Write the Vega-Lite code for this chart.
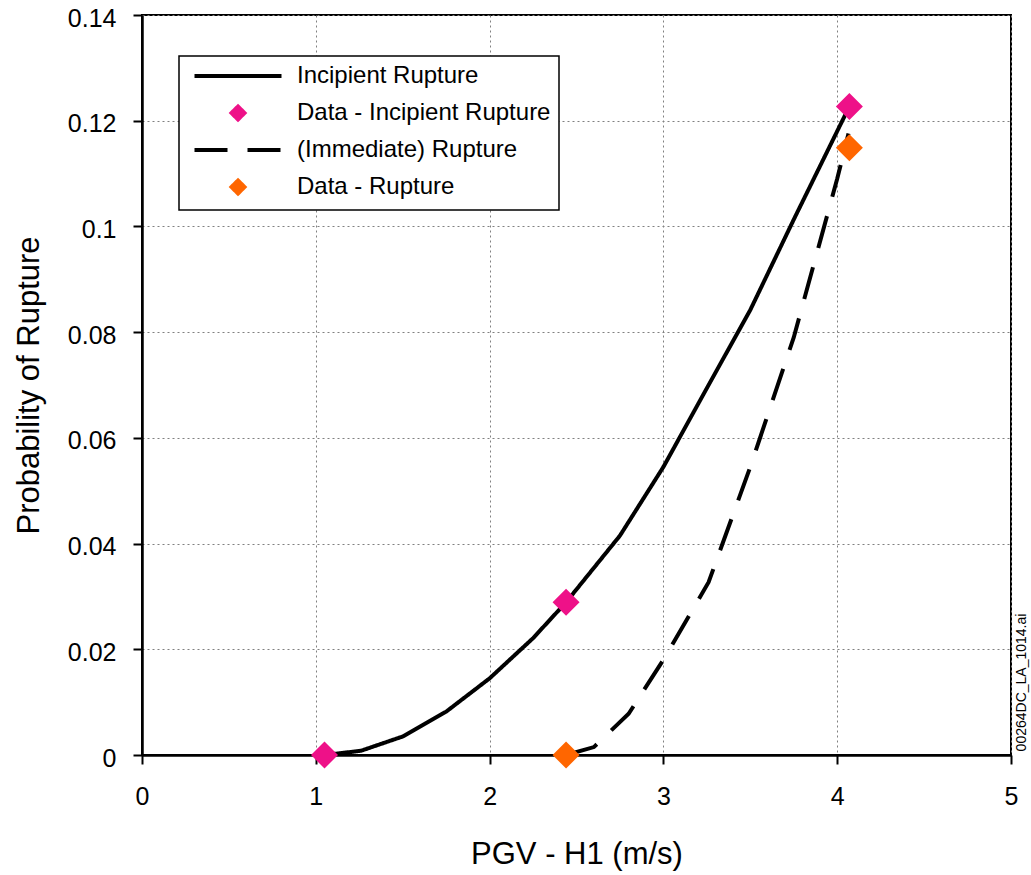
{
  "$schema": "https://vega.github.io/schema/vega-lite/v6.json",
  "autosize": {"type": "none"},
  "width": 869,
  "height": 740,
  "padding": {"left": 142, "top": 15, "right": 20, "bottom": 120},
  "background": "white",
  "data": {
    "values": [
      {"series": "Incipient Rupture", "x": 1.05, "y": 0},
      {"series": "Incipient Rupture", "x": 1.26, "y": 0.0008},
      {"series": "Incipient Rupture", "x": 1.5, "y": 0.0035},
      {"series": "Incipient Rupture", "x": 1.75, "y": 0.0082},
      {"series": "Incipient Rupture", "x": 2.0, "y": 0.0145},
      {"series": "Incipient Rupture", "x": 2.25, "y": 0.0221},
      {"series": "Incipient Rupture", "x": 2.44, "y": 0.0289},
      {"series": "Incipient Rupture", "x": 2.75, "y": 0.0415},
      {"series": "Incipient Rupture", "x": 3.0, "y": 0.0545},
      {"series": "Incipient Rupture", "x": 3.25, "y": 0.0694},
      {"series": "Incipient Rupture", "x": 3.5, "y": 0.0842},
      {"series": "Incipient Rupture", "x": 3.75, "y": 0.1013},
      {"series": "Incipient Rupture", "x": 4.07, "y": 0.1227},
      {"series": "(Immediate) Rupture", "x": 2.44, "y": 0},
      {"series": "(Immediate) Rupture", "x": 2.6, "y": 0.0015},
      {"series": "(Immediate) Rupture", "x": 2.8, "y": 0.0078},
      {"series": "(Immediate) Rupture", "x": 3.0, "y": 0.018},
      {"series": "(Immediate) Rupture", "x": 3.26, "y": 0.0327},
      {"series": "(Immediate) Rupture", "x": 3.5, "y": 0.0545},
      {"series": "(Immediate) Rupture", "x": 3.75, "y": 0.079},
      {"series": "(Immediate) Rupture", "x": 4.0, "y": 0.109},
      {"series": "(Immediate) Rupture", "x": 4.065, "y": 0.1176},
      {"series": "Data - Incipient Rupture", "x": 1.05, "y": 0},
      {"series": "Data - Incipient Rupture", "x": 2.44, "y": 0.0289},
      {"series": "Data - Incipient Rupture", "x": 4.07, "y": 0.1227},
      {"series": "Data - Rupture", "x": 2.44, "y": 0},
      {"series": "Data - Rupture", "x": 4.07, "y": 0.1149}
    ]
  },
  "layer": [
    {
      "transform": [{"filter": {"field": "series", "oneOf": ["Incipient Rupture", "(Immediate) Rupture"]}}],
      "mark": {"type": "line", "strokeWidth": 4, "clip": false},
      "encoding": {
        "x": {
          "field": "x", "type": "quantitative",
          "scale": {"domain": [0, 5], "nice": false, "zero": false},
          "axis": {
            "values": [0, 1, 2, 3, 4, 5], "format": "d", "title": "PGV - H1 (m/s)",
            "labelPadding": 20, "titleY": 99, "titleBaseline": "middle"
          }
        },
        "y": {
          "field": "y", "type": "quantitative",
          "scale": {"domain": [0, 0.14], "nice": false},
          "axis": {
            "values": [0, 0.02, 0.04, 0.06, 0.08, 0.1, 0.12, 0.14], "format": ".2~f",
            "title": "Probability of Rupture", "labelPadding": 17, "labelOffset": 3,
            "titleX": -113, "titleBaseline": "middle"
          }
        },
        "color": {
          "field": "series", "type": "nominal", "title": null,
          "scale": {
            "domain": ["Incipient Rupture", "Data - Incipient Rupture", "(Immediate) Rupture", "Data - Rupture"],
            "range": ["#000000", "#EE1188", "#000000", "#FF6600"]
          },
          "legend": {
            "encode": {
              "symbols": {"update": {"fill": {"scale": "color", "field": "value"}, "stroke": {"scale": "color", "field": "value"}, "strokeWidth": {"value": 4}}},
              "legend": {"update": {"strokeWidth": {"value": 1.5}}}
            }
          }
        },
        "strokeDash": {
          "field": "series", "type": "nominal", "title": null,
          "scale": {
            "domain": ["Incipient Rupture", "Data - Incipient Rupture", "(Immediate) Rupture", "Data - Rupture"],
            "range": [[1, 0], [1, 0], [33, 20], [1, 0]]
          }
        }
      }
    },
    {
      "transform": [{"filter": {"field": "series", "oneOf": ["Data - Incipient Rupture", "Data - Rupture"]}}],
      "mark": {"type": "point", "filled": true, "opacity": 1, "size": 432, "clip": false},
      "encoding": {
        "x": {"field": "x", "type": "quantitative"},
        "y": {
          "field": "y", "type": "quantitative",
          "axis": {
            "orient": "right", "title": "00264DC_LA_1014.ai", "labels": false, "ticks": false,
            "domain": false, "grid": false, "titleAngle": 270, "titleFontSize": 14,
            "titleX": 10, "titleY": 667, "titleBaseline": "middle", "titleAlign": "center"
          }
        },
        "color": {"field": "series", "type": "nominal", "title": null},
        "shape": {
          "field": "series", "type": "nominal", "title": null,
          "scale": {
            "domain": ["Incipient Rupture", "Data - Incipient Rupture", "(Immediate) Rupture", "Data - Rupture"],
            "range": ["M-8.7,0H8.7", "M0,-1.3L1.3,0L0,1.3L-1.3,0Z", "M-8.7,0H8.7", "M0,-1.3L1.3,0L0,1.3L-1.3,0Z"]
          }
        }
      }
    }
  ],
  "resolve": {"axis": {"y": "independent"}},
  "config": {
    "font": "Liberation Sans",
    "view": {"stroke": "black", "strokeWidth": 2},
    "axis": {
      "grid": true, "gridDash": [2, 3], "gridColor": "#808080", "gridWidth": 1, "gridOpacity": 1,
      "domainColor": "black", "domainWidth": 2.5, "tickColor": "black", "tickSize": 9, "tickWidth": 2,
      "labelFont": "Liberation Sans", "labelFontSize": 25, "labelColor": "black",
      "labelFlush": false, "labelOverlap": false,
      "titleFont": "Liberation Sans", "titleFontSize": 31, "titleFontWeight": "normal", "titleColor": "black"
    },
    "legend": {
      "orient": "none", "legendX": 37, "legendY": 41,
      "padding": 8, "strokeColor": "black", "fillColor": "white",
      "labelFont": "Liberation Sans", "labelFontSize": 24, "labelColor": "black", "labelLimit": 500,
      "symbolSize": 100, "symbolStrokeWidth": 4, "symbolOffset": 39, "labelOffset": 47,
      "rowPadding": 10, "symbolOpacity": 1
    }
  }
}
